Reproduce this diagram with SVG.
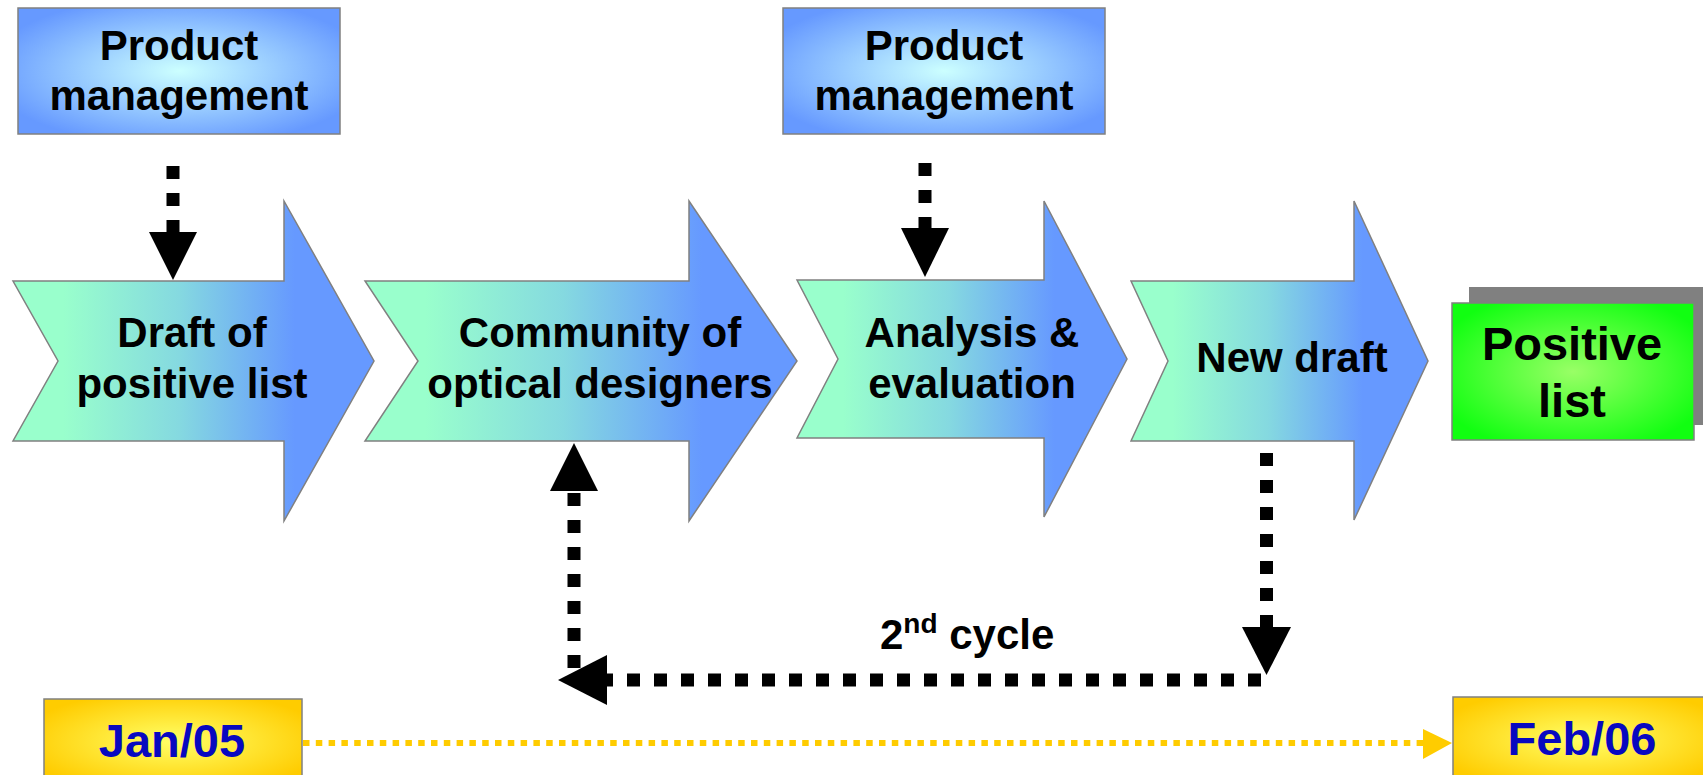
<svg xmlns="http://www.w3.org/2000/svg" width="1703" height="775" viewBox="0 0 1703 775">
<defs>
<linearGradient id="gArrow" x1="0" y1="0" x2="1" y2="0">
<stop offset="0" stop-color="#99ffcc"/>
<stop offset="0.14" stop-color="#99ffcc"/>
<stop offset="0.46" stop-color="#85d9e0"/>
<stop offset="0.78" stop-color="#6699ff"/>
<stop offset="1" stop-color="#6699ff"/>
</linearGradient>
<radialGradient id="gPM" cx="0.5" cy="0.5" r="0.6">
<stop offset="0" stop-color="#ccffff"/>
<stop offset="1" stop-color="#6699ff"/>
</radialGradient>
<radialGradient id="gGreen" cx="0.5" cy="0.5" r="0.6">
<stop offset="0" stop-color="#99ff66"/>
<stop offset="1" stop-color="#11ff11"/>
</radialGradient>
<radialGradient id="gYellow" cx="0.5" cy="0.5" r="0.6">
<stop offset="0" stop-color="#ffff66"/>
<stop offset="1" stop-color="#ffcc00"/>
</radialGradient>
<style>
.arrow{fill:url(#gArrow);stroke:#808080;stroke-width:1.5}
.pm{fill:url(#gPM);stroke:#808080;stroke-width:1.5}
.t{font-family:"Liberation Sans",Arial,sans-serif;font-weight:bold;font-size:42px;fill:#000;text-anchor:middle}
.date{font-family:"Liberation Sans",Arial,sans-serif;font-weight:bold;font-size:47px;fill:#0808c0;text-anchor:middle}
.dash{fill:none;stroke:#000;stroke-width:13;stroke-dasharray:13 14}
.head{fill:#000}
</style>
</defs>

<g id="pm1">
<rect x="18" y="8" width="322" height="126" class="pm"/>
<text class="t" x="179" y="60">Product</text>
<text class="t" x="179" y="110">management</text>
</g>

<g id="pm2">
<rect x="783" y="8" width="322" height="126" class="pm"/>
<text class="t" x="944" y="60">Product</text>
<text class="t" x="944" y="110">management</text>
</g>

<g id="draft">
<polygon class="arrow" points="13,281 284,281 284,201 374,361 284,521 284,441 13,441 58,361"/>
<text class="t" x="192" y="347">Draft of</text>
<text class="t" x="192" y="398">positive list</text>
</g>

<g id="community">
<polygon class="arrow" points="365,281 689,281 689,201 797,361 689,521 689,441 365,441 418,361"/>
<text class="t" x="600" y="347">Community of</text>
<text class="t" x="600" y="398">optical designers</text>
</g>

<g id="analysis">
<polygon class="arrow" points="797,280 1044,280 1044,201 1127,359 1044,517 1044,438 797,438 838,359"/>
<text class="t" x="972" y="347">Analysis &amp;</text>
<text class="t" x="972" y="398">evaluation</text>
</g>

<g id="newdraft">
<polygon class="arrow" points="1131,281 1354,281 1354,201 1428,361 1354,520 1354,441 1131,441 1168,361"/>
<text class="t" x="1292" y="372">New draft</text>
</g>

<g id="positive">
<rect x="1469" y="287" width="240" height="138" fill="#808080"/>
<rect x="1452" y="303" width="242" height="137" fill="url(#gGreen)" stroke="#808080" stroke-width="1.5"/>
<text class="t" x="1572" y="360" style="font-size:47px">Positive</text>
<text class="t" x="1572" y="417" style="font-size:47px">list</text>
</g>

<g id="jan05">
<rect x="44" y="699" width="258" height="85" fill="url(#gYellow)" stroke="#808080" stroke-width="1.5"/>
<text class="date" x="172" y="757">Jan/05</text>
</g>

<g id="feb06">
<rect x="1453" y="697" width="260" height="85" fill="url(#gYellow)" stroke="#808080" stroke-width="1.5"/>
<text class="date" x="1582" y="755">Feb/06</text>
</g>

<g id="connectors">
<path class="dash" d="M173 166 V232"/>
<polygon class="head" points="149,232 197,232 173,280"/>
<path class="dash" d="M925 163 V229"/>
<polygon class="head" points="901,228 949,228 925,277"/>
<path class="dash" d="M1266.5 453 V627"/>
<polygon class="head" points="1242,627 1291,627 1266.5,675"/>
<path class="dash" d="M1261 680 H607"/>
<polygon class="head" points="607,655 607,705 558,680"/>
<path class="dash" d="M574 668 V491"/>
<polygon class="head" points="550,491 598,491 574,443"/>
<path d="M303 743 H1423" fill="none" stroke="#ffcc00" stroke-width="6" stroke-dasharray="6.5 6.3"/>
<polygon points="1423,729 1423,759 1452,743" fill="#ffcc00"/>
</g>

<text x="880" y="649" font-family="'Liberation Sans',Arial,sans-serif" font-weight="bold" font-size="42" fill="#000">2<tspan dy="-16" font-size="28">nd</tspan><tspan dy="16"> cycle</tspan></text>
</svg>
